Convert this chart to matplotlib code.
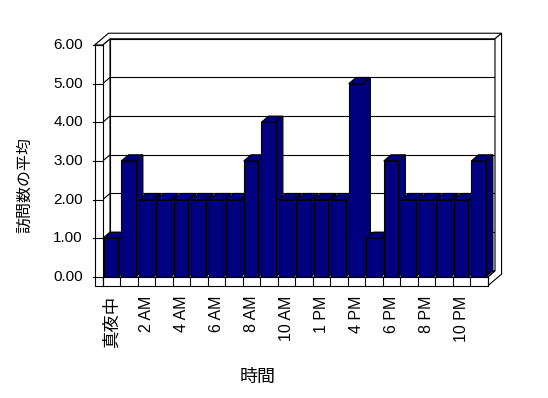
import numpy as np
import matplotlib.pyplot as plt
from matplotlib.patches import Polygon

plt.rcParams['font.family'] = ['Liberation Sans', 'Noto Sans CJK JP']

# data
hours = ["真夜中", "1 AM", "2 AM", "3 AM", "4 AM", "5 AM", "6 AM", "7 AM",
         "8 AM", "9 AM", "10 AM", "11 AM", "1 PM", "3 PM", "4 PM", "5 PM",
         "6 PM", "7 PM", "8 PM", "9 PM", "10 PM", "11 PM"]
visits = [1, 3, 2, 2, 2, 2, 2, 2, 3, 4, 2, 2, 2, 2, 5, 1, 3, 2, 2, 2, 2, 3]
yticks = [0, 1, 2, 3, 4, 5, 6]
ytick_labels = ["0.00", "1.00", "2.00", "3.00", "4.00", "5.00", "6.00"]
xlabel = "時間"
ylabel = "訪問数の平均"

NAVY = "#000080"
LW = 0.8

# pseudo 3d: depth vector in data units
DX, DY = 0.417, 0.16
WALL = 0.46     # left wall thickness (categories)
FLOOR = 0.23    # floor thickness (values)
WT = 0.9        # back wall thickness (depth units)
BAR_OFF, BAR_W = 0.06, 0.82

n = len(visits)
ymax = yticks[-1]

def P(x, y, z=0.0):
    return (x + z * DX, y + z * DY)

def poly(ax, pts, fc="white", z=1):
    ax.add_patch(Polygon([P(*p) for p in pts], closed=True, fc=fc, ec="black",
                         lw=LW, zorder=z, joinstyle="miter"))

W, H = 548, 398
fig = plt.figure(figsize=(W / 100, H / 100), dpi=100)
ax = fig.add_axes([0, 0, 1, 1])
# pixel mapping: category edge 0 -> x 102.7px, 17.5 px per category; value 0 -> y 277px, 38.67 px per unit
x0, sx, y0, sy = 102.7, 17.5, 277.0, 38.67
ax.set_xlim(-x0 / sx, (W - x0) / sx)
ax.set_ylim((y0 - H) / sy, y0 / sy)
ax.axis("off")

# back wall inner face + gridlines
poly(ax, [(0, 0, 1), (n, 0, 1), (n, ymax, 1), (0, ymax, 1)], z=1)
# left wall inner face
poly(ax, [(0, 0, 0), (0, 0, 1), (0, ymax, 1), (0, ymax, 0)], z=1)
for t in yticks[1:-1]:
    ax.plot(*zip(P(0, t, 1), P(n, t, 1)), color="black", lw=LW, zorder=2)
    ax.plot(*zip(P(0, t, 0), P(0, t, 1)), color="black", lw=LW, zorder=2)
# walls' top (L shape) and right end (L shape)
poly(ax, [(-WALL, ymax, 0), (0, ymax, 0), (0, ymax, 1), (n, ymax, 1),
          (n, ymax, 1 + WT), (-WALL, ymax, 1 + WT)], z=3)
poly(ax, [(n, -FLOOR, 0), (n, 0, 0), (n, 0, 1), (n, ymax, 1),
          (n, ymax, 1 + WT), (n, -FLOOR, 1 + WT)], z=3)
# floor top
poly(ax, [(0, 0, 0), (n, 0, 0), (n, 0, 1), (0, 0, 1)], z=3)
# left wall front face
poly(ax, [(-WALL, -FLOOR, 0), (0, -FLOOR, 0), (0, ymax, 0), (-WALL, ymax, 0)], z=60)
# floor front face with category dividers
poly(ax, [(0, -FLOOR, 0), (n, -FLOOR, 0), (n, 0, 0), (0, 0, 0)], z=60)
for i in range(n + 1):
    ax.plot([i, i], [-FLOOR, 0], color="black", lw=LW, zorder=61)

# bars: front faces through ax.bar, top/side faces from the same values
xs = np.arange(n) + BAR_OFF
bars = ax.bar(xs, visits, width=BAR_W, align="edge", color=NAVY,
              edgecolor="black", linewidth=LW)
for i, (b, v) in enumerate(zip(bars, visits)):
    zb = 10 + 2 * i
    b.set_zorder(zb + 1)
    xl, xr = xs[i], xs[i] + BAR_W
    poly(ax, [(xr, 0, 0), (xr, 0, 1), (xr, v, 1), (xr, v, 0)], fc=NAVY, z=zb)
    poly(ax, [(xl, v, 0), (xr, v, 0), (xr, v, 1), (xl, v, 1)], fc=NAVY, z=zb)

# value axis ticks and labels on the left wall front
for t, lab in zip(yticks, ytick_labels):
    ax.plot([-WALL - 0.12, 0], [t, t], color="black", lw=LW, zorder=62)
    ax.text(-WALL - 0.67, t, lab, ha="right", va="center", fontsize=11)

# category labels (every other one shown)
for i in range(0, n, 2):
    fs = 11.5 if hours[i].isascii() else 12.5
    ax.text(i + 0.5, -FLOOR - 0.25, hours[i], rotation=90, ha="center",
            va="top", fontsize=fs)

ax.text(8.87, -2.61, xlabel, ha="center", va="center", fontsize=13)
ax.text(-4.44, 2.38, ylabel, rotation=90, ha="center", va="center", fontsize=11.5)

fig.savefig("out.png", dpi=100, facecolor="white")
